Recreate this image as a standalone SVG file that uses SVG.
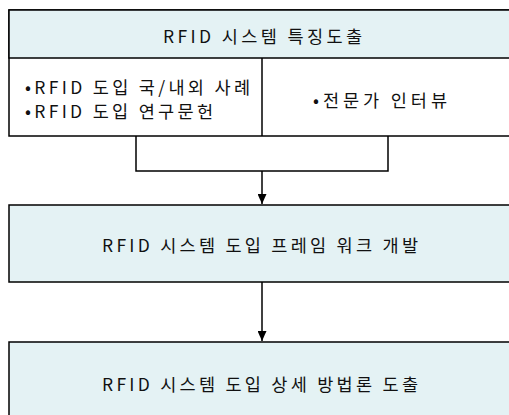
<svg xmlns="http://www.w3.org/2000/svg" width="509" height="415" viewBox="0 0 509 415">
<style>
.box{fill:#e4f2f4;stroke:#000;stroke-width:1.5}
.white{fill:#fff;stroke:#000;stroke-width:1.5}
.ln{fill:none;stroke:#000;stroke-width:1.5}
text{font-family:"Noto Sans CJK KR","Noto Sans",sans-serif;font-size:17.5px;fill:#111}
.c{text-anchor:middle}
</style>
<defs>
<marker id="ah" markerWidth="10" markerHeight="9" refX="10" refY="4.5" orient="auto" markerUnits="userSpaceOnUse">
<path d="M0,0 L10,4.5 L0,9 Z" fill="#000"/>
</marker>
</defs>
<g id="node1">
<rect class="white" x="9" y="10" width="520" height="126"/>
<rect class="box" x="9" y="10" width="520" height="48"/>
<line class="ln" x1="262" y1="58" x2="262" y2="136"/>
<text class="c" x="262.5" y="42.5" textLength="199" lengthAdjust="spacing">RFID 시스템 특징도출</text>
<text x="25" y="93.5" textLength="225" lengthAdjust="spacing">•RFID 도입 국/내외 사례</text>
<text x="25" y="117.5" textLength="188" lengthAdjust="spacing">•RFID 도입 연구문헌</text>
<text x="313" y="106.5" textLength="134" lengthAdjust="spacing">•전문가 인터뷰</text>
</g>
<g id="node2">
<rect class="box" x="9" y="205" width="520" height="77"/>
<text x="102" y="251.5" textLength="316" lengthAdjust="spacing">RFID 시스템 도입 프레임 워크 개발</text>
</g>
<g id="node3">
<rect class="box" x="9" y="342" width="520" height="90"/>
<text x="102" y="390.5" textLength="316" lengthAdjust="spacing">RFID 시스템 도입 상세 방법론 도출</text>
</g>
<g id="connectors">
<path class="ln" d="M136,136 V171 H388 V136"/>
<line class="ln" x1="262" y1="171" x2="262" y2="204" marker-end="url(#ah)"/>
<line class="ln" x1="262" y1="282" x2="262" y2="341" marker-end="url(#ah)"/>
</g>
</svg>
